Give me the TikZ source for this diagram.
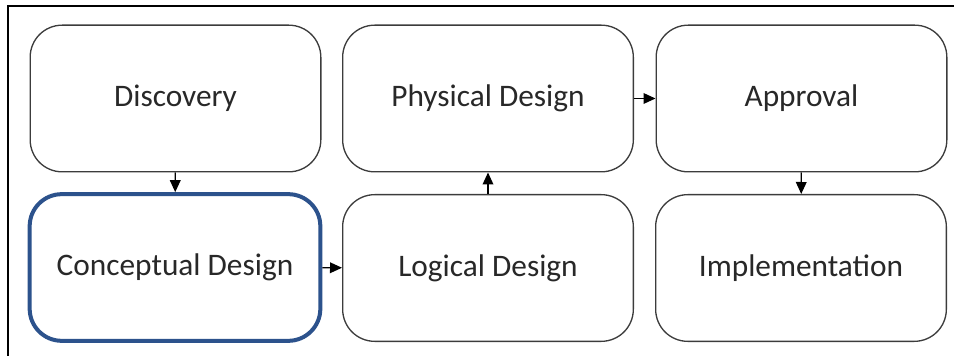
\documentclass[tikz,border=0pt]{standalone}
\usepackage{fontspec}
\setmainfont{Carlito}
\usetikzlibrary{arrows.meta}
\tikzset{every picture/.style={line width=0.75pt}}
\definecolor{boxline}{RGB}{60,60,60}
\definecolor{stepblue}{RGB}{44,82,140}
\definecolor{labeltext}{RGB}{40,40,40}
\tikzset{
  stagebox/.style={draw=boxline, line width=1pt, rounded corners=24pt, fill=white,
    minimum width=218pt, minimum height=110pt, inner sep=0pt,
    text=labeltext, font=\fontsize{23.5}{28}\selectfont},
  currentbox/.style={stagebox, draw=stepblue, line width=3pt},
  flow/.style={line width=1pt, -{Triangle[length=9pt,width=8pt]}}
}

\begin{document}
\begin{tikzpicture}[x=0.75pt,y=0.75pt,yscale=-1,xscale=1]
      \useasboundingbox (0,0) rectangle (954,356);
      % frame
      \draw [line width=1.6pt] (8,356) -- (8,6) -- (954,6);
      % stages
      \draw (175.5,98.5) node [stagebox] (disc) {Discovery};
      \draw (175,267.5) node [currentbox] (concept) {Conceptual Design};
      \draw (488,268) node [stagebox] (logic) {Logical Design};
      \draw (488,98.5) node [stagebox] (phys) {Physical Design};
      \draw (801.5,98.5) node [stagebox] (appr) {Approval};
      \draw (801,268) node [stagebox] (impl) {Implementation};
      % flow
      \draw [flow] (disc) -- (concept);
      \draw [flow] (concept) -- (logic);
      \draw [flow] (logic) -- (phys);
      \draw [flow] (phys) -- (appr);
      \draw [flow] (appr) -- (impl);
\end{tikzpicture}
\end{document}
